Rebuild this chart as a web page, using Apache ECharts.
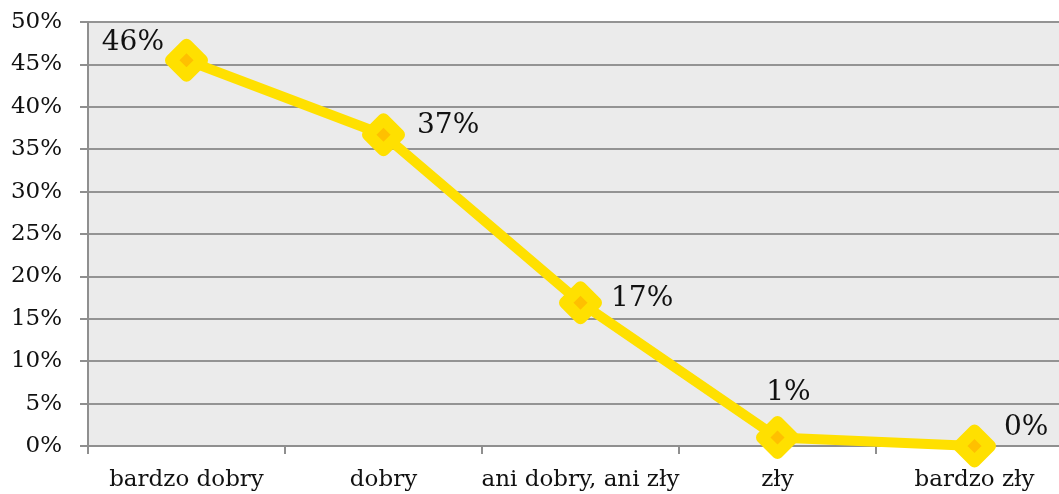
<!DOCTYPE html>
<html>
<head>
<meta charset="utf-8">
<script src="https://cdn.jsdelivr.net/npm/echarts@6/dist/echarts.min.js"></script>
<style>
  html, body { margin: 0; padding: 0; background: #ffffff; }
  #chart { width: 1059px; height: 494px; }
</style>
</head>
<body>
<div id="chart"></div>
<script>
// Ocena (odsetek odpowiedzi)
const categories = ['bardzo dobry', 'dobry', 'ani dobry, ani zły', 'zły', 'bardzo zły'];
const shares = [45.5, 36.7, 16.9, 1.0, 0.0];

// Per-point label placement around the markers
const labelPlacement = [
  { position: 'left', distance: 1, offset: [0, -17] },
  { position: 'right', distance: 12, offset: [0, -9] },
  { position: 'right', distance: 9, offset: [0, -4] },
  { position: 'top', distance: 9, offset: [11, 0] },
  { position: 'right', distance: 8, offset: [0, -18] }
];

const FONT = 'DejaVu Serif';

const seriesData = shares.map((v, i) => ({
  value: v,
  label: Object.assign({}, labelPlacement[i])
}));

const chart = echarts.init(document.getElementById('chart'), null, { renderer: 'canvas' });

chart.setOption({
  animation: false,
  backgroundColor: '#ffffff',
  grid: {
    left: 88, top: 22, bottom: 48, width: 985,
    containLabel: false,
    outerBoundsMode: 'none',
    show: true, backgroundColor: '#EBEBEB', borderWidth: 0
  },
  xAxis: {
    type: 'category',
    data: categories,
    boundaryGap: true,
    axisLine: { show: true, lineStyle: { color: '#8f8f8f', width: 2 } },
    axisTick: { show: true, length: 8, alignWithLabel: false, lineStyle: { color: '#8f8f8f', width: 2 } },
    axisLabel: { color: '#111', fontFamily: FONT, fontSize: 23, margin: 23, interval: 0 },
    splitLine: { show: false }
  },
  yAxis: {
    type: 'value',
    min: 0, max: 50, interval: 5,
    axisLine: { show: true, lineStyle: { color: '#8f8f8f', width: 2 } },
    axisTick: { show: true, length: 8, lineStyle: { color: '#8f8f8f', width: 2 } },
    axisLabel: { color: '#111', fontFamily: FONT, fontSize: 23, margin: 26, formatter: '{value}%' },
    splitLine: { show: true, lineStyle: { color: '#939393', width: 2 } }
  },
  series: [{
    type: 'line',
    data: seriesData,
    symbol: 'diamond',
    symbolSize: 31,
    lineStyle: { color: '#FFE000', width: 10 },
    itemStyle: { color: '#FFC000', borderColor: '#FFE000', borderWidth: 12, borderJoin: 'round' },
    label: {
      show: true,
      color: '#111',
      fontFamily: FONT,
      fontSize: 28,
      formatter: p => Math.round(p.value) + '%'
    },
    emphasis: { disabled: true },
    z: 3
  }]
});
</script>
</body>
</html>
